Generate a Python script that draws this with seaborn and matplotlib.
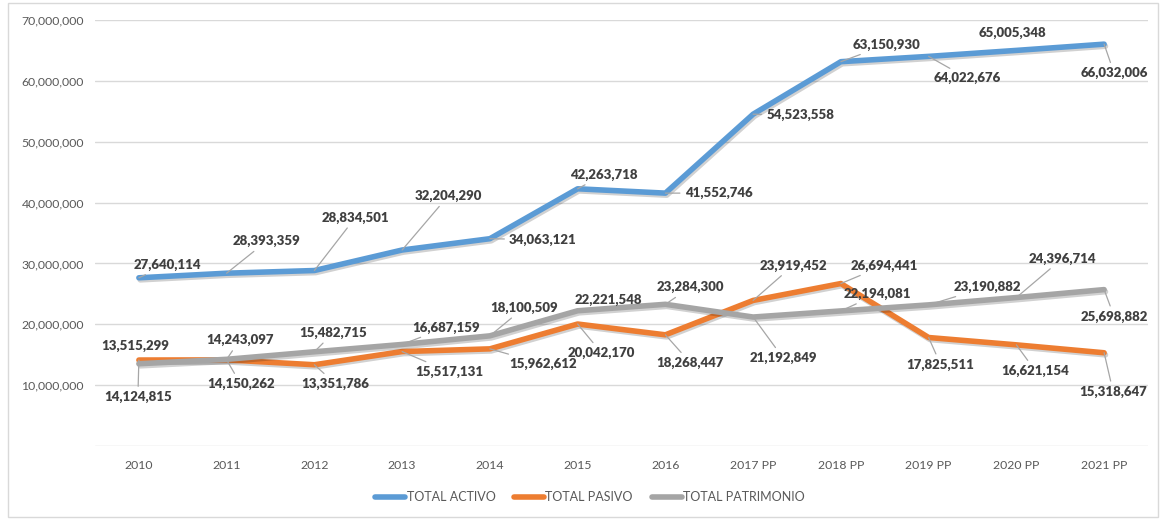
import numpy as np
import pandas as pd
import matplotlib.pyplot as plt
import matplotlib.patheffects as pe
from matplotlib.patches import Rectangle
from matplotlib.ticker import FuncFormatter
import seaborn as sns

years = ['2010', '2011', '2012', '2013', '2014', '2015', '2016',
         '2017 PP', '2018 PP', '2019 PP', '2020 PP', '2021 PP']
activo = [27640114, 28393359, 28834501, 32204290, 34063121, 42263718,
          41552746, 54523558, 63150930, 64022676, 65005348, 66032006]
pasivo = [14124815, 14150262, 13351786, 15517131, 15962612, 20042170,
          18268447, 23919452, 26694441, 17825511, 16621154, 15318647]
patrimonio = [13515299, 14243097, 15482715, 16687159, 18100509, 22221548,
              23284300, 21192849, 22194081, 23190882, 24396714, 25698882]
series_names = ['TOTAL ACTIVO', 'TOTAL PASIVO', 'TOTAL PATRIMONIO']
colors = ['#5B9BD5', '#ED7D31', '#A5A5A5']

# label offsets in pixels (dx, dy) from each point, copied by eye from the excel chart
off_activo = [(28, 13), (40, 32), (41, 53), (46, 54), (53, -1), (26, 14),
              (53, 0), (47, -1), (46, 17), (39, -22), (-4, 17), (10, -29)]
off_pasivo = [(-1, -37), (14, -24), (21, -19), (47, -20), (53, -15), (24, -29),
              (25, -28), (40, 35), (43, 18), (12, -27), (19, -26), (9, -39)]
off_patrim = [(-4, 18), (13, 19), (19, 19), (44, 17), (34, 28), (31, 11),
              (25, 17), (30, -41), (37, 17), (59, 18), (46, 39), (10, -27)]

df = pd.DataFrame({
    'idx': list(range(len(years))) * 3,
    'valor': activo + pasivo + patrimonio,
    'serie': [s for s in series_names for _ in years],
})

sns.set_style('white')
plt.rcParams['font.family'] = ['Lato', 'DejaVu Sans']

W, H = 1162, 519
fig = plt.figure(figsize=(W / 100, H / 100), dpi=100)
ax = fig.add_axes([95 / W, 1 - 446 / H, (1148 - 95) / W, (446 - 20) / H])

sns.lineplot(data=df, x='idx', y='valor', hue='serie', hue_order=series_names,
             palette=colors, linewidth=4, ax=ax, legend=False)
for ln in ax.lines:
    ln.set_solid_capstyle('round')
    ln.set_path_effects([pe.SimpleLineShadow(offset=(1, -1.5), alpha=0.18),
                         pe.Normal()])

ax.set_xlim(-0.5, len(years) - 0.5)
ax.set_ylim(0, 70000000)
ax.set_yticks(np.arange(0, 70000001, 10000000))
ax.yaxis.set_major_formatter(FuncFormatter(lambda v, p: '' if v == 0 else f'{v:,.0f}'))
ax.set_xticks(range(len(years)))
ax.set_xticklabels(years)
ax.tick_params(axis='both', length=0, labelsize=8.8, colors='#595959', pad=8)
ax.tick_params(axis='x', pad=10)
ax.grid(axis='y', color='#D9D9D9', linewidth=1)
ax.set_axisbelow(True)
for s in ax.spines.values():
    s.set_visible(False)
ax.set_xlabel('')
ax.set_ylabel('')

for vals, offs in [(activo, off_activo), (pasivo, off_pasivo), (patrimonio, off_patrim)]:
    for i, (v, (dx, dy)) in enumerate(zip(vals, offs)):
        kw = {}
        if np.hypot(dx, dy) > 22:
            kw['arrowprops'] = dict(arrowstyle='-', color='#A6A6A6', lw=0.9,
                                    shrinkA=1, shrinkB=0)
        ax.annotate(f'{v:,}', xy=(i, v), xytext=(dx, dy), textcoords='offset pixels',
                    ha='center', va='center', fontsize=9.5, fontweight='heavy',
                    color='#404040', zorder=5, **kw)

handles = [plt.Line2D([], [], color=c, lw=4, solid_capstyle='round') for c in colors]
fig.legend(handles, series_names, loc='center', bbox_to_anchor=(590 / W, 1 - 497 / H),
           ncol=3, frameon=False, fontsize=9, handlelength=2.4, handletextpad=0.1,
           columnspacing=1.5, labelcolor='#595959')

fig.add_artist(Rectangle((8 / W, 1 - 517 / H), (1158 - 8) / W, (517 - 3) / H,
                         transform=fig.transFigure, fill=False,
                         edgecolor='#D9D9D9', linewidth=1))

fig.savefig('out.png', dpi=100)
